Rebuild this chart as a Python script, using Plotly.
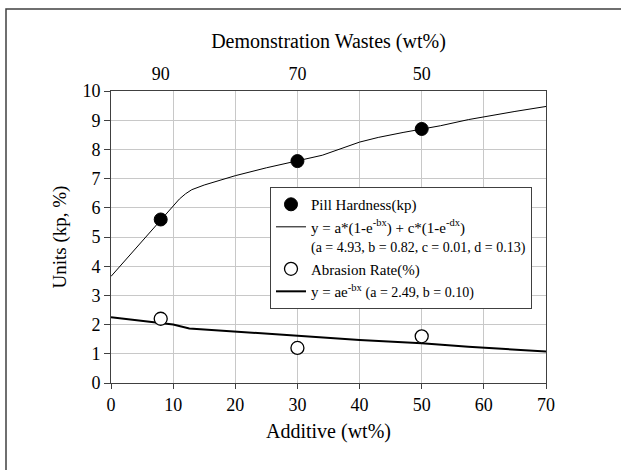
import plotly.graph_objects as go

# measured points
hard_x = [8, 30, 50]
hard_y = [5.6, 7.6, 8.7]
abr_x = [8, 30, 50]
abr_y = [2.2, 1.2, 1.6]

# fitted curves
hfit_x = [0, 8, 10, 11, 12, 13, 15, 20, 25, 30, 34, 40, 43, 47, 50, 53, 57.5, 60, 65, 70]
hfit_y = [3.65, 5.6, 6.05, 6.3, 6.48, 6.62, 6.78, 7.1, 7.37, 7.6, 7.8, 8.25, 8.41, 8.58, 8.7, 8.81, 9.02, 9.12, 9.3, 9.47]
afit_x = [0, 10, 12.6, 20, 28.6, 40, 50, 57.5, 70]
afit_y = [2.25, 2.0, 1.87, 1.76, 1.64, 1.47, 1.36, 1.24, 1.08]

top_tickvals = [8, 30, 50]
top_ticktext = ["90", "70", "50"]
x_ticks = [0, 10, 20, 30, 40, 50, 60, 70]
y_ticks = list(range(0, 11))

FONT = "Liberation Serif"
TICKFONT = dict(family=FONT, size=18, color="black")

fig = go.Figure()
fig.add_trace(go.Scatter(x=hfit_x, y=hfit_y, mode="lines",
                         line=dict(color="black", width=1),
                         name="y = a*(1-e<sup>-bx</sup>) + c*(1-e<sup>-dx</sup>)<br><span style='font-size:14px'>(a = 4.93, b = 0.82, c = 0.01, d = 0.13)</span>",
                         legendrank=2))
fig.add_trace(go.Scatter(x=afit_x, y=afit_y, mode="lines",
                         line=dict(color="black", width=2),
                         name="y = ae<sup>-bx</sup> <span style='font-size:14px'>(a = 2.49, b = 0.10)</span>",
                         legendrank=4))
fig.add_trace(go.Scatter(x=hard_x, y=hard_y, mode="markers",
                         marker=dict(symbol="circle", size=13, color="black",
                                     line=dict(color="black", width=1)),
                         name="Pill Hardness(kp)", legendrank=1))
fig.add_trace(go.Scatter(x=abr_x, y=abr_y, mode="markers",
                         marker=dict(symbol="circle", size=13, color="white",
                                     line=dict(color="black", width=1.3)),
                         name="Abrasion Rate(%)", legendrank=3))
# invisible trace to activate top axis
fig.add_trace(go.Scatter(x=[0, 70], y=[None, None], xaxis="x2", showlegend=False,
                         hoverinfo="skip"))

fig.update_layout(
    width=621, height=470,
    margin=dict(l=111, r=75, t=91, b=87),
    paper_bgcolor="white", plot_bgcolor="white",
    font=dict(family=FONT, size=17, color="black"),
    showlegend=True,
    legend=dict(x=0.3655, y=0.671, xanchor="left", yanchor="top",
                bgcolor="white", bordercolor="#404040", borderwidth=1,
                font=dict(family=FONT, size=15, color="black"),
                valign="top", tracegroupgap=0),
    xaxis=dict(range=[0, 70], tickvals=x_ticks, showgrid=True, gridcolor="#c8c8c8",
               gridwidth=1, zeroline=False, showline=True, linecolor="#404040",
               linewidth=1, mirror=True, ticks="outside", ticklen=5,
               tickcolor="#404040", tickfont=TICKFONT,
               title=dict(text="Additive (wt%)", font=dict(family=FONT, size=20), standoff=10)),
    xaxis2=dict(range=[0, 70], overlaying="x", side="top", tickvals=top_tickvals,
                ticktext=top_ticktext, showgrid=False, zeroline=False, ticks="",
                showline=False, tickfont=TICKFONT, ticklabelstandoff=6,
                title=dict(text="Demonstration Wastes (wt%)", font=dict(family=FONT, size=20), standoff=10)),
    yaxis=dict(range=[0, 10], tickvals=y_ticks, showgrid=True, gridcolor="#c8c8c8",
               gridwidth=1, zeroline=False, showline=True, linecolor="#404040",
               linewidth=1, mirror=True, ticks="outside", ticklen=6,
               tickcolor="#404040", tickfont=TICKFONT,
               title=dict(text="Units (kp, %)", font=dict(family=FONT, size=19), standoff=10)),
    shapes=[dict(type="rect", xref="paper", yref="paper",
                 x0=(6 - 111) / 435, x1=(630 - 111) / 435,
                 y0=(383 - 480) / 292, y1=(383 - 9) / 292,
                 line=dict(color="#404040", width=1.5), fillcolor="rgba(0,0,0,0)",
                 layer="below")],
)

fig.write_html("out.html")
